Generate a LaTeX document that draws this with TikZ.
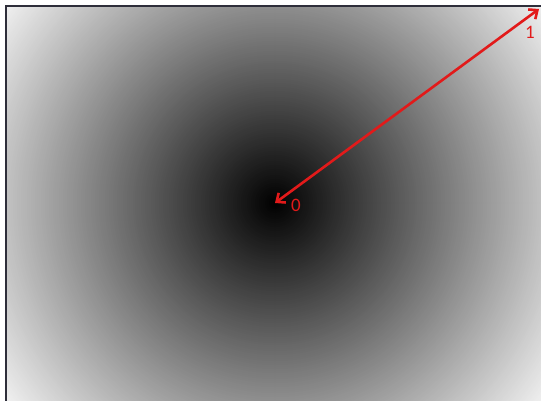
\documentclass[tikz,border=0pt]{standalone}
\usepackage{fontspec}
\setmainfont{Carlito}
\usetikzlibrary{arrows.meta}
\definecolor{framecol}{HTML}{2E2E3A}
\definecolor{arrowred}{HTML}{E21A1A}
\tikzset{
  redarrow/.style={draw=arrowred, line width=2.6pt, {Straight Barb[length=7pt,width=12pt,line width=2.6pt]}-{Straight Barb[length=7pt,width=12pt,line width=2.6pt]}},
  redlabel/.style={text=arrowred, font=\fontsize{19}{19}\selectfont, inner sep=0pt}
}
\begin{document}
\begin{tikzpicture}[x=1pt,y=-1pt]
\useasboundingbox (0,0) rectangle (541,401);
\fill[white] (0,0) rectangle (541,401);
\coordinate (center) at (275,203);
\begin{scope}
\clip (6,6) rectangle (541,401);
\fill[white!95!black] (6,6) rectangle (541,401);
\foreach \r in {340,338,...,0} {
  \pgfmathsetmacro\g{min(95,\r/3.55)}
  \fill[white!\g!black] (center) circle[radius=\r pt];
}
\end{scope}
\draw[framecol, line width=2.8pt] (6,401) -- (6,6) -- (541,6);
\coordinate (corner) at (539,9);
\draw[redarrow] (center) -- (corner);
\node[redlabel] (one) at (530,32) {1};
\node[redlabel] (zero) at (296,205) {0};
\end{tikzpicture}
\end{document}
